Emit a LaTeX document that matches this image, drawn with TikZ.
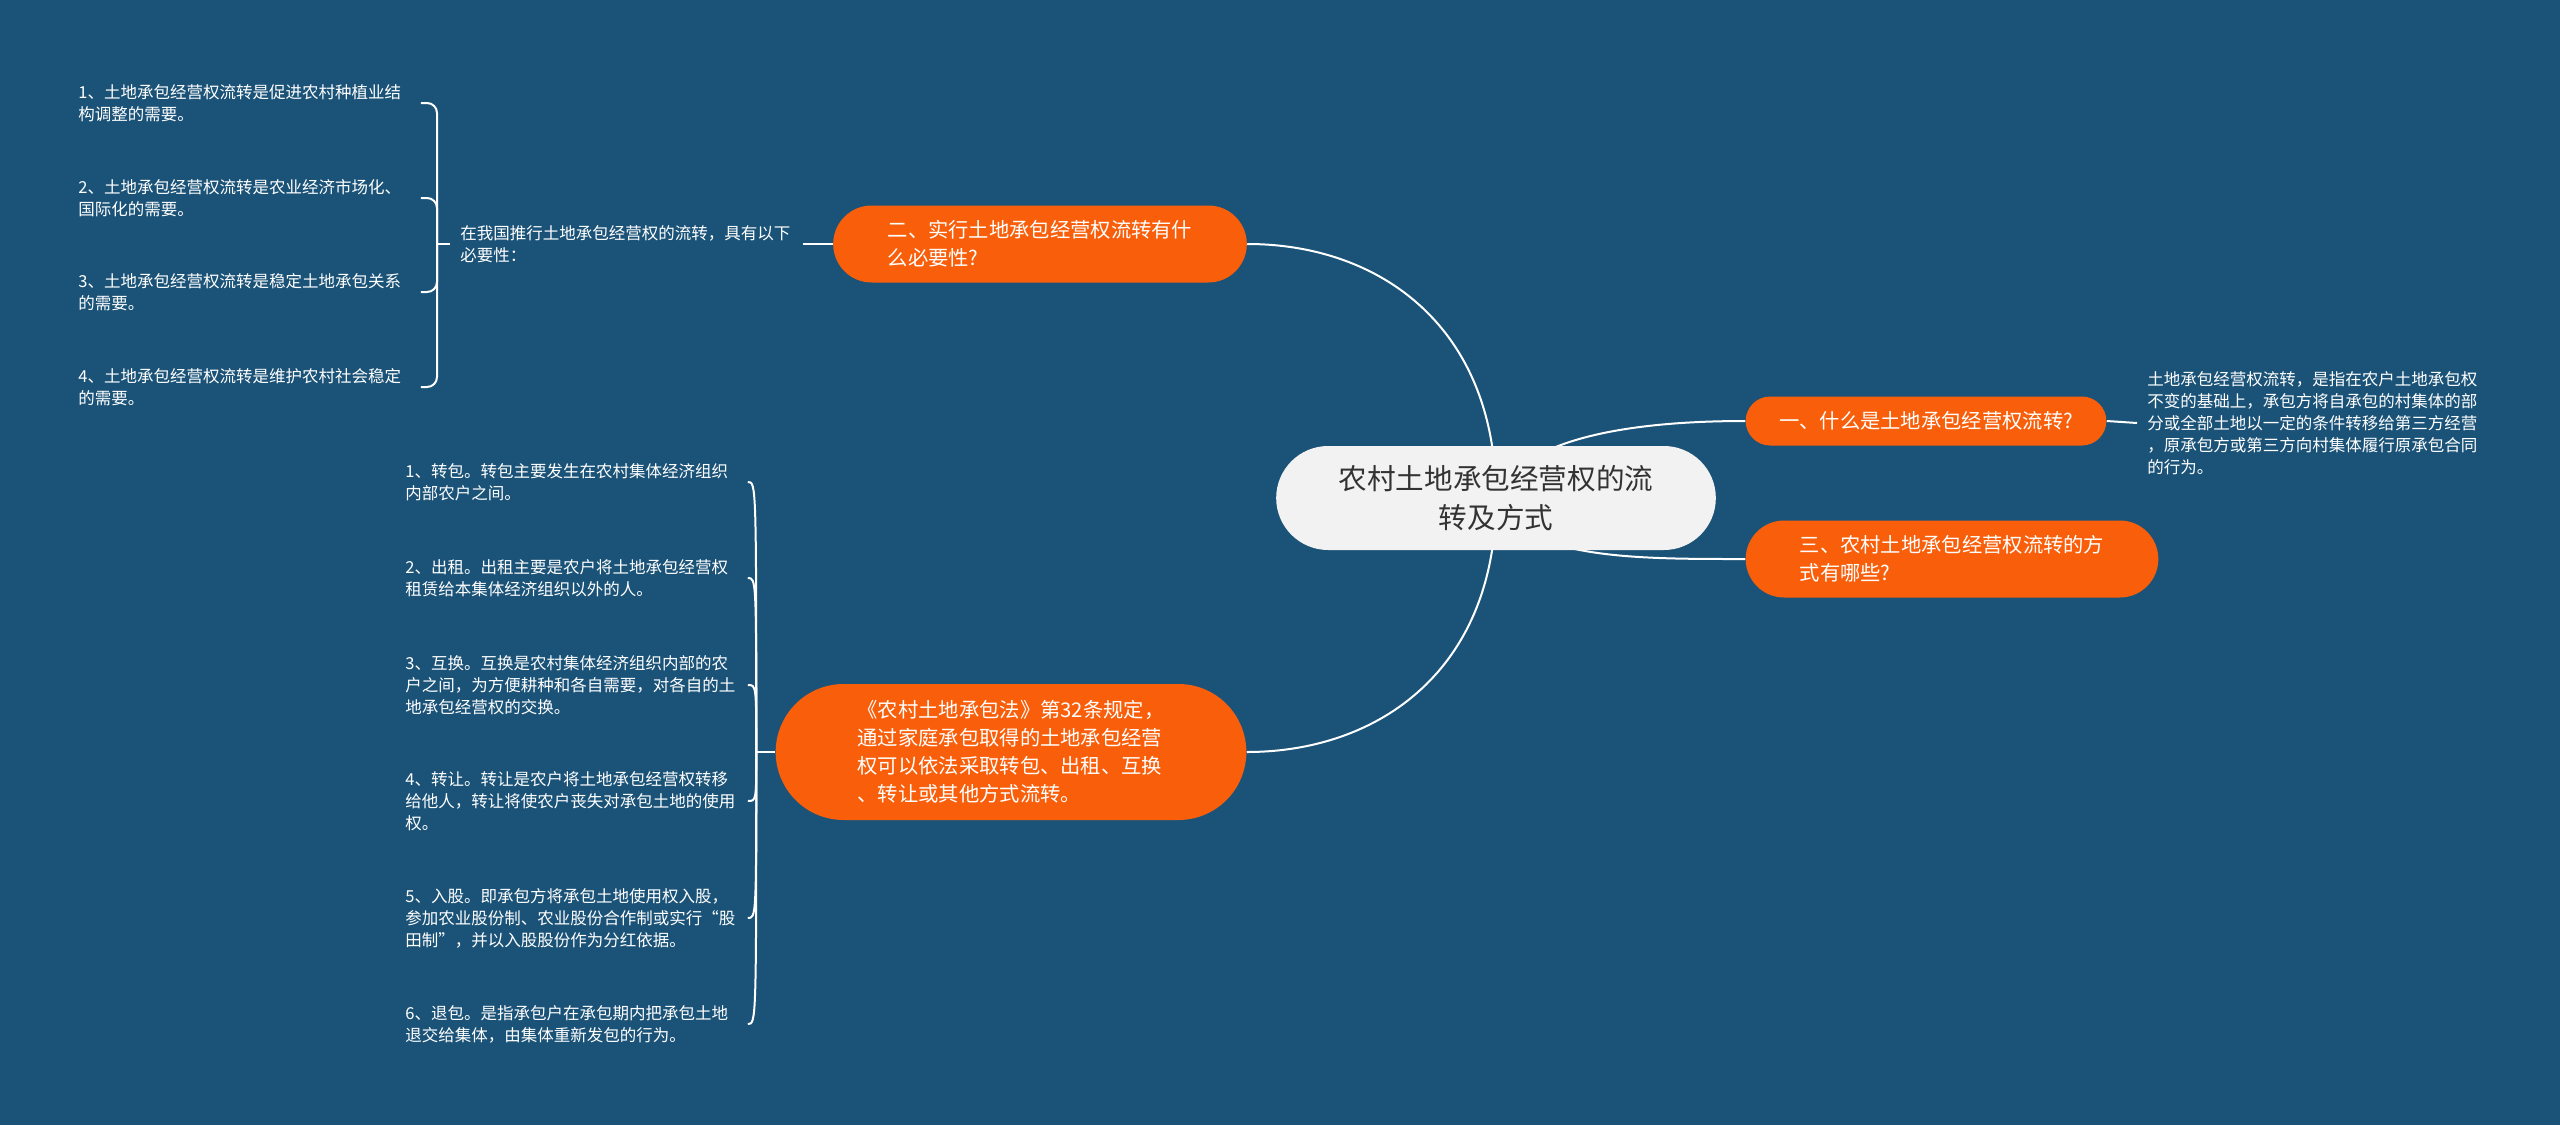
\documentclass[tikz,border=0pt]{standalone}
\usepackage{fontspec}
\setmainfont{Noto Sans CJK SC}
\usetikzlibrary{shapes.misc,backgrounds}
\definecolor{bgblue}{HTML}{1B5378}
\definecolor{topicorange}{HTML}{F95F0A}
\definecolor{rootgray}{HTML}{F2F2F2}
\definecolor{roottext}{HTML}{333333}
\tikzset{
  root/.style={rounded rectangle, fill=rootgray, text=roottext, align=center, font=\fontsize{14.3}{19.5}\selectfont, minimum width=226.5pt, minimum height=52pt},
  topic/.style={rounded rectangle, fill=topicorange, text=white, align=left, font=\fontsize{10.15}{14}\selectfont, minimum height=38.5pt},
  leaf/.style={anchor=west, text=white, align=left, text width=166pt, inner xsep=5pt, inner ysep=2pt, font=\fontsize{8.25}{11}\selectfont},
  link/.style={draw=white, line width=1pt},
}

\begin{document}
\begin{tikzpicture}[x=0.5pt, y=-0.5pt]
\useasboundingbox (0,0) rectangle (2560,1125);

\node[root] (root) at (1496,498) {农村土地承包经营权的流\\转及方式};

\node[topic, minimum width=213.5pt] (why) at (1040,244) {二、实行土地承包经营权流转有什\\么必要性?};
\node[topic, minimum width=187pt, minimum height=24.5pt] (what) at (1926,421) {一、什么是土地承包经营权流转?};
\node[topic, minimum width=213pt] (how) at (1952,559) {三、农村土地承包经营权流转的方\\式有哪些?};
\node[topic, minimum width=242pt, minimum height=68pt] (law) at (1011,752)
  {《农村土地承包法》第32条规定，\\通过家庭承包取得的土地承包经营\\权可以依法采取转包、出租、互换\\、转让或其他方式流转。};

\node[leaf] (defn) at (2137,423) {土地承包经营权流转，是指在农户土地承包权\\不变的基础上，承包方将自承包的村集体的部\\分或全部土地以一定的条件转移给第三方经营\\，原承包方或第三方向村集体履行原承包合同\\的行为。};

\node[leaf] (need) at (450,244) {在我国推行土地承包经营权的流转，具有以下\\必要性：};
\node[leaf] (need1) at (68,103) {1、土地承包经营权流转是促进农村种植业结\\构调整的需要。};
\node[leaf] (need2) at (68,198) {2、土地承包经营权流转是农业经济市场化、\\国际化的需要。};
\node[leaf] (need3) at (68,292) {3、土地承包经营权流转是稳定土地承包关系\\的需要。};
\node[leaf] (need4) at (68,387) {4、土地承包经营权流转是维护农村社会稳定\\的需要。};

\node[leaf] (way1) at (395,482) {1、转包。转包主要发生在农村集体经济组织\\内部农户之间。};
\node[leaf] (way2) at (395,578) {2、出租。出租主要是农户将土地承包经营权\\租赁给本集体经济组织以外的人。};
\node[leaf] (way3) at (395,685) {3、互换。互换是农村集体经济组织内部的农\\户之间，为方便耕种和各自需要，对各自的土\\地承包经营权的交换。};
\node[leaf] (way4) at (395,801) {4、转让。转让是农户将土地承包经营权转移\\给他人，转让将使农户丧失对承包土地的使用\\权。};
\node[leaf] (way5) at (395,918) {5、入股。即承包方将承包土地使用权入股，\\参加农业股份制、农业股份合作制或实行“股\\田制”，并以入股股份作为分红依据。};
\node[leaf] (way6) at (395,1024) {6、退包。是指承包户在承包期内把承包土地\\退交给集体，由集体重新发包的行为。};

\begin{scope}[on background layer]
\fill[bgblue] (0,0) rectangle (2560,1125);

\draw[link] (root.center) .. controls +(0,-170) and +(134,0) .. (why.east);
\draw[link] (root.center) .. controls +(0,170) and +(134,0) .. (law.east);
\draw[link] (root.center) .. controls +(24,-62) and +(-107,0) .. (what.west);
\draw[link] (root.center) .. controls +(24,62) and +(-107,0) .. (how.west);

\draw[link] (what.east) -- (defn.west);

\draw[link] (why.west) -- (need.east);
\draw[link] (need.west) -- ++(-13,0) coordinate (needfork);
\draw[link, rounded corners=5pt] (needfork) |- (need1.east);
\draw[link, rounded corners=5pt] (needfork) |- (need2.east);
\draw[link, rounded corners=5pt] (needfork) |- (need3.east);
\draw[link, rounded corners=5pt] (needfork) |- (need4.east);

\draw[link] (law.west) -- ++(-19,0) coordinate (lawfork);
\draw[link] (lawfork) .. controls (lawfork |- way1.east) and (lawfork |- way1.east) .. (way1.east);
\draw[link] (lawfork) .. controls (lawfork |- way2.east) and (lawfork |- way2.east) .. (way2.east);
\draw[link] (lawfork) .. controls (lawfork |- way3.east) and (lawfork |- way3.east) .. (way3.east);
\draw[link] (lawfork) .. controls (lawfork |- way4.east) and (lawfork |- way4.east) .. (way4.east);
\draw[link] (lawfork) .. controls (lawfork |- way5.east) and (lawfork |- way5.east) .. (way5.east);
\draw[link] (lawfork) .. controls (lawfork |- way6.east) and (lawfork |- way6.east) .. (way6.east);
\end{scope}

\end{tikzpicture}
\end{document}
